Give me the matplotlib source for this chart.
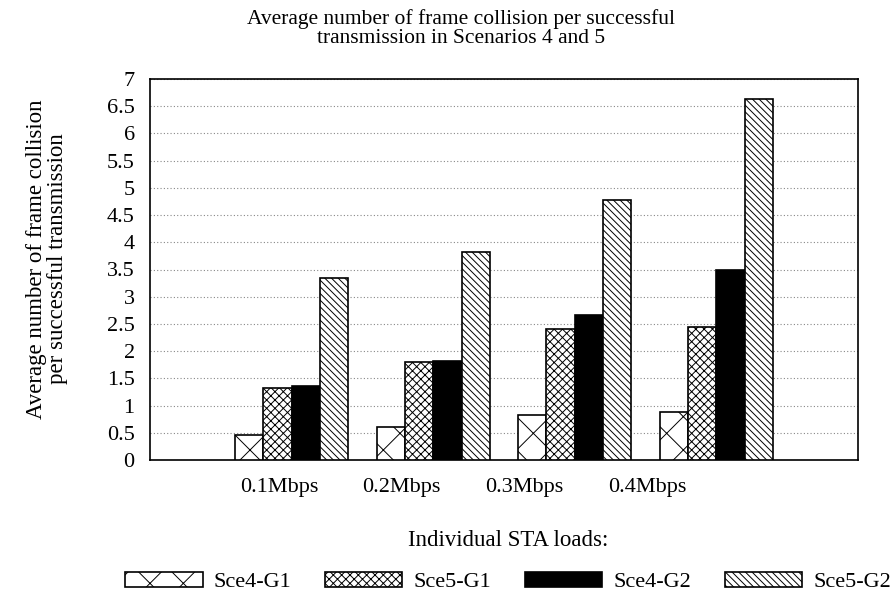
import numpy as np
import matplotlib
matplotlib.use('Agg')
import matplotlib.pyplot as plt

plt.rcParams['font.family'] = ['Liberation Serif', 'DejaVu Serif']
plt.rcParams['hatch.linewidth'] = 0.7

# data
loads = ['0.1Mbps', '0.2Mbps', '0.3Mbps', '0.4Mbps']
series = ['Sce4-G1', 'Sce5-G1', 'Sce4-G2', 'Sce5-G2']
sce4_g1 = [0.46, 0.60, 0.82, 0.88]
sce5_g1 = [1.32, 1.80, 2.40, 2.45]
sce4_g2 = [1.36, 1.82, 2.67, 3.49]
sce5_g2 = [3.34, 3.83, 4.77, 6.64]

values = [sce4_g1, sce5_g1, sce4_g2, sce5_g2]
faces = ['white', 'white', 'black', 'white']
hatches = ['x', 'xxxx', None, '\\\\\\\\\\']

fig = plt.figure(figsize=(8.96, 6.03), dpi=100)
ax = fig.add_axes([150/896, 1 - 460/603, 708/896, 381/603])

x = np.arange(len(loads))
w = 0.2
for k, (vals, fc, h, name) in enumerate(zip(values, faces, hatches, series)):
    ax.bar(x + (k - 1.5) * w, vals, w, color=fc, edgecolor='black',
           hatch=h, linewidth=1.2, label=name, zorder=3)

ax.set_xlim(-1.0, 4.0)
ax.set_ylim(0, 7)
ax.set_yticks(np.arange(0, 7.01, 0.5))
ax.set_yticklabels(['0', '0.5', '1', '1.5', '2', '2.5', '3', '3.5', '4',
                    '4.5', '5', '5.5', '6', '6.5', '7'])
# the category labels in the original sit left of the bar groups
ax.set_xticks(x * 0.867 - 0.09)
ax.set_xticklabels(loads)
ax.tick_params(axis='both', length=0, labelsize=16)
ax.tick_params(axis='y', pad=11)
ax.tick_params(axis='x', pad=13)
ax.yaxis.grid(True, linestyle=(0, (1, 2)), color='#888888', linewidth=0.8, zorder=0)
for s in ax.spines.values():
    s.set_color('black')
    s.set_linewidth(1.2)

fig.text(461/896, 1 - 29/603,
         'Average number of frame collision per successful\ntransmission in Scenarios 4 and 5',
         ha='center', va='center', fontsize=15.5, linespacing=1.0)
fig.text(47/896, 1 - 259/603,
         'Average number of frame collision\nper successful transmission',
         ha='center', va='center', rotation=90, fontsize=16.5, linespacing=1.0)
fig.text(508/896, 1 - 541/603, 'Individual STA loads:', ha='center', va='center',
         fontsize=16.5)

fig.legend(loc='center', bbox_to_anchor=(508/896, 1 - 582/603), ncol=4,
           frameon=False, fontsize=16, handlelength=3.5, handleheight=0.7,
           handletextpad=0.5, columnspacing=1.5)

fig.savefig('out.png', dpi=100)
